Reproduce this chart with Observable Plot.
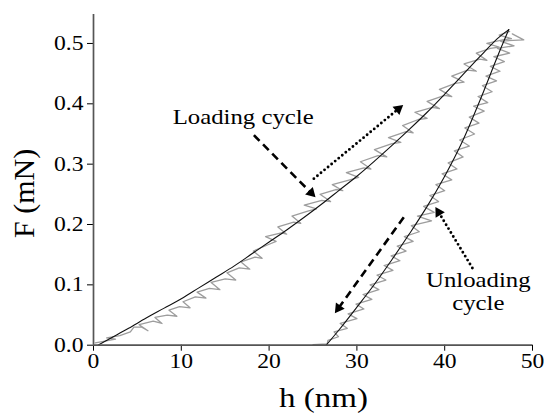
<!DOCTYPE html>
<html><head><meta charset="utf-8">
<script src="https://cdn.jsdelivr.net/npm/d3@7"></script>
<script src="https://cdn.jsdelivr.net/npm/@observablehq/plot@0.6"></script>
<style>body{margin:0;background:#fff}</style>
</head><body><div id="chart"></div>
<script>
// ---- data ----
const xTicks = [0, 10, 20, 30, 40, 50];
const yTicks = [0, 0.1, 0.2, 0.3, 0.4, 0.5];
const xTitle = "h (nm)";
const yTitle = "F (mN)";

// fitted loading curve
const loadFitH = [0.5, 2, 4, 6, 8, 10, 12, 14, 16, 18, 20, 22, 24, 26, 28, 30, 32, 34, 36, 38, 40, 42, 44, 46, 47.3];
const loadFitF = [0, 0.012, 0.028, 0.045, 0.061, 0.077, 0.095, 0.113, 0.131, 0.151, 0.171, 0.191, 0.212, 0.234, 0.257, 0.280, 0.305, 0.331, 0.358, 0.386, 0.416, 0.447, 0.478, 0.508, 0.523];
// fitted unloading curve
const unloadFitH = [26.5, 28, 30, 32, 34, 36, 38, 40, 42, 44, 46, 47.3];
const unloadFitF = [0, 0.026, 0.063, 0.101, 0.142, 0.185, 0.230, 0.280, 0.337, 0.405, 0.478, 0.523];

// measured (noisy) loading data
const loadDataH = [0.2,1.0,2.5,1.5,3.0,4.2,4.6,5.5,6.2,5.2,6.8,7.8,7.0,8.4,9.5,8.6,9.8,11.0,10.2,11.6,12.8,11.8,13.2,14.4,13.4,15.0,16.2,15.2,16.6,17.8,16.8,18.4,19.2,18.2,19.8,20.8,19.6,21.4,22.0,21.0,22.8,23.6,22.6,24.4,25.4,24.0,26.0,27.0,25.8,27.6,28.4,27.2,29.2,30.2,28.8,30.8,31.6,30.4,32.4,33.4,32.0,34.0,35.0,33.6,35.6,36.4,35.2,37.0,38.0,36.6,38.6,39.4,38.0,40.0,40.8,39.4,41.2,42.2,40.8,42.6,43.6,42.2,44.0,44.8,43.6,45.2,46.2,44.8,46.6,47.6,46.2,47.4];
const loadDataF = [0.004,0.006,0.010,0.012,0.016,0.022,0.030,0.030,0.024,0.034,0.040,0.036,0.046,0.050,0.048,0.058,0.064,0.062,0.072,0.080,0.078,0.088,0.094,0.092,0.104,0.110,0.108,0.120,0.128,0.126,0.138,0.146,0.144,0.156,0.166,0.172,0.180,0.186,0.184,0.196,0.204,0.202,0.214,0.222,0.226,0.232,0.240,0.238,0.250,0.258,0.256,0.266,0.274,0.278,0.286,0.294,0.292,0.304,0.314,0.312,0.324,0.334,0.336,0.344,0.354,0.352,0.364,0.374,0.376,0.386,0.394,0.392,0.404,0.414,0.412,0.424,0.434,0.436,0.446,0.456,0.454,0.466,0.474,0.472,0.484,0.492,0.494,0.500,0.506,0.508,0.514,0.520];
// measured (noisy) unloading data
const unloadDataH = [47.7,49.0,46.35,47.9,46.0,47.4,45.6,46.8,45.2,46.3,44.7,45.9,44.3,45.4,43.8,44.9,43.3,44.5,42.8,43.9,42.3,43.4,41.7,42.8,41.1,42.1,40.4,41.4,39.7,40.8,39.0,40.0,38.3,39.3,37.6,38.8,36.9,38.5,36.2,37.1,35.4,36.4,34.6,35.6,33.9,34.9,33.1,34.1,32.3,33.3,31.5,32.5,30.7,31.7,29.9,30.8,29.0,30.0,28.1,28.9,27.4,27.9,26.7,26.62,25.0];
const unloadDataF = [0.516,0.506,0.504,0.496,0.492,0.484,0.478,0.470,0.462,0.454,0.446,0.438,0.430,0.420,0.412,0.402,0.396,0.388,0.378,0.368,0.360,0.350,0.340,0.330,0.322,0.312,0.302,0.292,0.284,0.274,0.266,0.256,0.248,0.238,0.230,0.220,0.214,0.206,0.198,0.188,0.180,0.172,0.164,0.156,0.148,0.140,0.132,0.124,0.116,0.108,0.100,0.092,0.084,0.076,0.068,0.060,0.052,0.044,0.036,0.028,0.022,0.014,0.008,0.002,0.001];

// annotation arrows (tail -> tip), in data units
const arrowX1 = [18.27, 25.10, 35.34, 43.15];
const arrowY1 = [0.348, 0.276, 0.212, 0.128];
const arrowX2 = [25.29, 35.27, 27.49, 38.94];
const arrowY2 = [0.245, 0.398, 0.053, 0.229];
const arrowDash = ["dash", "dot", "dash", "dot"];

// annotation labels
const labelText = ["Loading cycle", "Unloading\ncycle"];
const labelX = [17.05, 43.83];
const labelY = [0.367, 0.058];

// ---- layout ----
const W = 544, H = 416, mL = 93, mR = 12, mT = 14, mB = 71.3;
const xDom = [0, 50], yDom = [0, 0.548];
const kx = (W - mL - mR) / (xDom[1] - xDom[0]);
const ky = (H - mT - mB) / (yDom[1] - yDom[0]);
const headR = 4;
const headArea = Math.PI * headR * headR;
const tipOff = 2 * Math.sqrt(headArea / (3 * Math.sqrt(3)));

const loadFit = loadFitH.map((h, i) => ({h, F: loadFitF[i]}));
const unloadFit = unloadFitH.map((h, i) => ({h, F: unloadFitF[i]}));
const loadData = loadDataH.map((h, i) => ({h, F: loadDataF[i]}));
const unloadData = unloadDataH.map((h, i) => ({h, F: unloadDataF[i]}));

const arrows = arrowX1.map((x1, i) => {
  const x2 = arrowX2[i], y1 = arrowY1[i], y2 = arrowY2[i];
  const dxp = (x2 - x1) * kx, dyp = -(y2 - y1) * ky;
  const len = Math.hypot(dxp, dyp);
  const ux = dxp / len, uy = dyp / len;
  return {
    x1, y1,
    sx2: x2 - (tipOff + 2) * ux / kx, sy2: y2 + (tipOff + 2) * uy / ky,
    hx: x2 - tipOff * ux / kx, hy: y2 + tipOff * uy / ky,
    rot: Math.atan2(ux, -uy) * 180 / Math.PI,
    dash: arrowDash[i]
  };
});
const labels = labelText.map((t, i) => ({t, x: labelX[i], y: labelY[i]}));

const font = "'Liberation Serif', 'Times New Roman', serif";

const plot = Plot.plot({
  width: W, height: H,
  marginLeft: mL, marginRight: mR, marginTop: mT, marginBottom: mB,
  style: {fontFamily: font, fontSize: "20px", color: "#000", background: "#fff"},
  x: {domain: xDom, ticks: xTicks, tickSize: 6, tickPadding: 3, tickFormat: d => String(d), label: null},
  y: {domain: yDom, ticks: yTicks, tickSize: 6, tickPadding: 4, tickFormat: d => d.toFixed(1), label: null},
  marks: [
    Plot.line(loadData, {x: "h", y: "F", stroke: "#9d9d9d", strokeWidth: 1.3}),
    Plot.line(unloadData, {x: "h", y: "F", stroke: "#9d9d9d", strokeWidth: 1.3}),
    Plot.line(loadFit, {x: "h", y: "F", stroke: "#111", strokeWidth: 1.1, curve: "catmull-rom"}),
    Plot.line(unloadFit, {x: "h", y: "F", stroke: "#111", strokeWidth: 1.1, curve: "catmull-rom"}),
    Plot.ruleX([0], {y1: 0, y2: yDom[1], stroke: "#555", strokeWidth: 1.7}),
    Plot.ruleY([0], {x1: 0, x2: xDom[1], stroke: "#555", strokeWidth: 1.7}),
    Plot.link(arrows.filter(d => d.dash === "dash"), {x1: "x1", y1: "y1", x2: "sx2", y2: "sy2", stroke: "#000", strokeWidth: 2.6, strokeDasharray: "8,5"}),
    Plot.link(arrows.filter(d => d.dash === "dot"), {x1: "x1", y1: "y1", x2: "sx2", y2: "sy2", stroke: "#000", strokeWidth: 2.9, strokeDasharray: "0,4.6", strokeLinecap: "round"}),
    Plot.dot(arrows, {x: "hx", y: "hy", symbol: "triangle", r: headR, rotate: "rot", fill: "#000", stroke: "none"}),
    Plot.text(labels, {x: "x", y: "y", text: "t", fontSize: 21, lineAnchor: "bottom", lineHeight: 1.11, textAnchor: "middle", fill: "#000"}),
    Plot.text([xTitle], {x: [26.2], y: [-0.1028], text: d => d, fontSize: 28, lineAnchor: "bottom", textAnchor: "middle", fill: "#000"}),
    Plot.text([yTitle], {x: [-7.86], y: [0.2516], text: d => d, fontSize: 30, rotate: -90, textAnchor: "middle", lineAnchor: "middle", fill: "#000"})
  ]
});

// the reference glyphs are horizontally stretched; widen non-rotated text
plot.querySelectorAll("text").forEach(t => {
  const tr = t.getAttribute("transform") || "";
  if (tr.includes("rotate")) return;
  t.setAttribute("transform", (tr + " scale(1.18,1)").trim());
});

document.getElementById("chart").appendChild(plot);
</script>
</body></html>
